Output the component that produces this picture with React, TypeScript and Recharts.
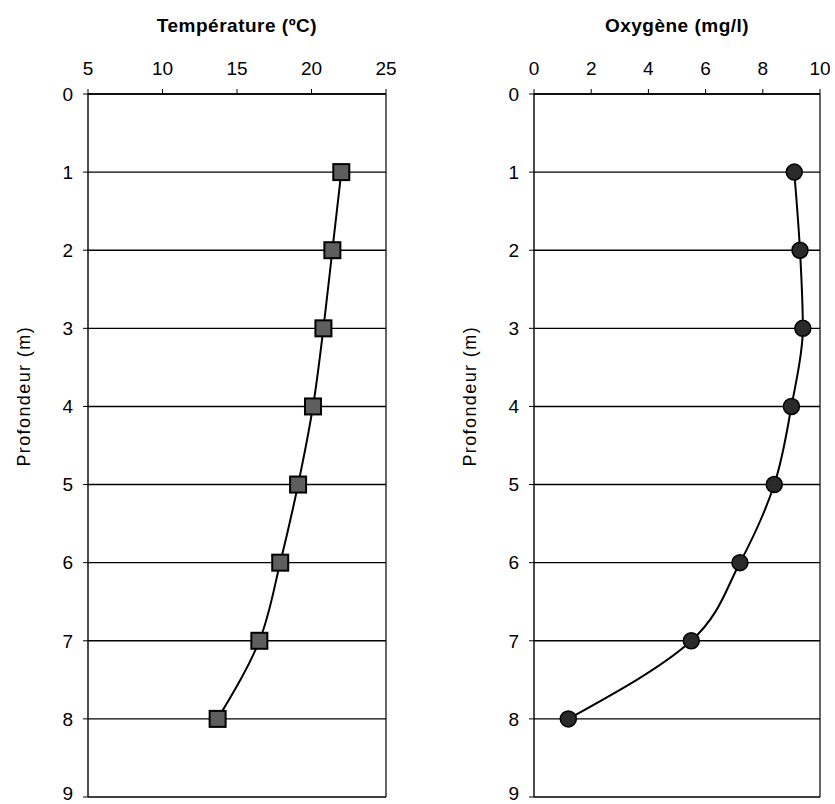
import {
  LineChart,
  Line,
  XAxis,
  YAxis,
  CartesianGrid,
  ReferenceLine,
  Label,
} from "recharts";

// depth profile (m) and the two measured series
const depths = [1, 2, 3, 4, 5, 6, 7, 8];
const temperature = [22.0, 21.4, 20.8, 20.1, 19.1, 17.9, 16.5, 13.7];
const oxygen = [9.1, 9.3, 9.4, 9.0, 8.4, 7.2, 5.5, 1.2];

const depthTicks = [0, 1, 2, 3, 4, 5, 6, 7, 8, 9];
const tempTicks = [5, 10, 15, 20, 25];
const oxyTicks = [0, 2, 4, 6, 8, 10];

const FONT = "'Liberation Sans', Arial, sans-serif";
const tickStyle = { fill: "#000", fontSize: 19, fontFamily: FONT };

const tempData = depths.map((d, i) => ({ depth: d, value: temperature[i] }));
const oxyData = depths.map((d, i) => ({ depth: d, value: oxygen[i] }));

const SquareDot = (props: any) => {
  const { cx, cy, index } = props;
  if (cx == null || cy == null) return null;
  return (
    <rect
      key={`sq-${index}`}
      x={cx - 8}
      y={cy - 8}
      width={16}
      height={16}
      fill="#5e5e5e"
      stroke="#000"
      strokeWidth={2}
    />
  );
};

const RoundDot = (props: any) => {
  const { cx, cy, index } = props;
  if (cx == null || cy == null) return null;
  return (
    <circle
      key={`ci-${index}`}
      cx={cx}
      cy={cy}
      r={8}
      fill="#2a2a2a"
      stroke="#000"
      strokeWidth={1.5}
    />
  );
};

const DepthLabel = (props: any) => {
  const vb = props.viewBox || {};
  const x = vb.x + 16;
  const y = vb.y + vb.height * 0.43;
  return (
    <text
      x={x}
      y={y}
      transform={`rotate(-90, ${x}, ${y})`}
      textAnchor="middle"
      dominantBaseline="central"
      fill="#000"
      fontSize={18}
      fontFamily={FONT}
      letterSpacing={1.4}
    >
      Profondeur (m)
    </text>
  );
};

function Profile({
  data,
  domain,
  ticks,
  title,
  marginRight,
  marginLeft,
  width,
  square,
}: {
  data: { depth: number; value: number }[];
  domain: [number, number];
  ticks: number[];
  title: string;
  marginRight: number;
  marginLeft: number;
  width: number;
  square: boolean;
}) {
  return (
    <LineChart
      width={width}
      height={804}
      layout="vertical"
      data={data}
      margin={{ top: 54, right: marginRight, bottom: 7, left: marginLeft }}
    >
      <CartesianGrid vertical={false} stroke="#000" strokeWidth={1.4} />
      <XAxis
        type="number"
        orientation="top"
        domain={domain}
        ticks={ticks}
        allowDataOverflow
        height={40}
        tick={tickStyle}
        tickSize={5}
        tickMargin={14}
        stroke="#000"
        axisLine={{ stroke: "#000", strokeWidth: 1.4 }}
      >
        <Label
          value={title}
          position="top"
          offset={22}
          style={{
            fill: "#000",
            fontSize: 19,
            fontWeight: "bold",
            fontFamily: FONT,
            letterSpacing: 0.5,
          }}
        />
      </XAxis>
      <YAxis
        type="number"
        dataKey="depth"
        domain={[0, 9]}
        ticks={depthTicks}
        width={80}
        tick={tickStyle}
        tickSize={5}
        tickMargin={10}
        stroke="#000"
        axisLine={{ stroke: "#000", strokeWidth: 1.4 }}
      >
        <Label content={DepthLabel} />
      </YAxis>
      <ReferenceLine x={domain[1]} stroke="#000" strokeWidth={1.2} />
      <Line
        dataKey="value"
        type="monotone"
        stroke="#000"
        strokeWidth={2}
        dot={square ? SquareDot : RoundDot}
        activeDot={false}
        isAnimationActive={false}
      />
    </LineChart>
  );
}

export default function App() {
  return (
    <div
      style={{
        position: "absolute",
        left: 0,
        top: 0,
        width: 835,
        height: 804,
        background: "#fff",
        fontFamily: FONT,
      }}
    >
      <div style={{ position: "absolute", left: 0, top: 0 }}>
        <Profile
          data={tempData}
          domain={[5, 25]}
          ticks={tempTicks}
          title="Température (ºC)"
          width={420}
          marginLeft={8}
          marginRight={34}
          square
        />
      </div>
      <div style={{ position: "absolute", left: 420, top: 0 }}>
        <Profile
          data={oxyData}
          domain={[0, 10]}
          ticks={oxyTicks}
          title="Oxygène (mg/l)"
          width={415}
          marginLeft={34}
          marginRight={15}
          square={false}
        />
      </div>
    </div>
  );
}
